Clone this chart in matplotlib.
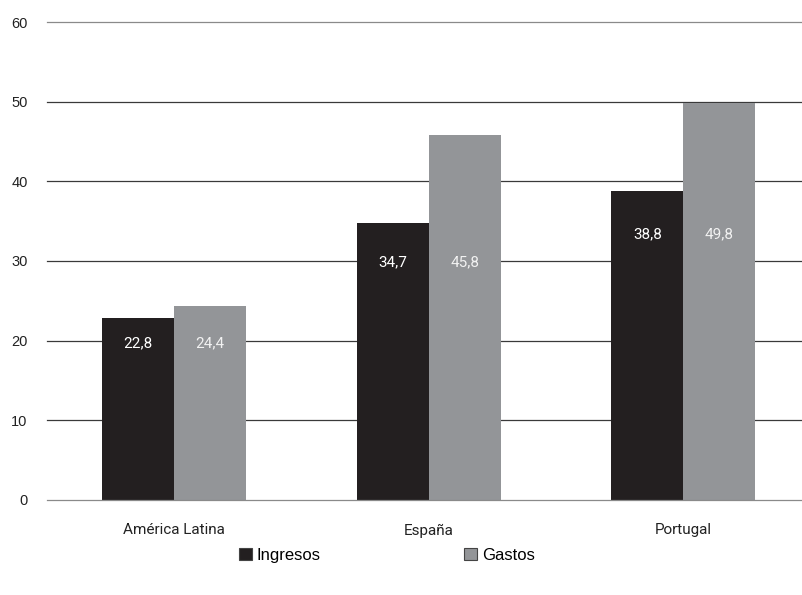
import matplotlib.pyplot as plt
import numpy as np

categories = ['América Latina', 'España', 'Portugal']
ingresos = [22.8, 34.7, 38.8]
gastos = [24.4, 45.8, 49.8]
labels_ing = ['22,8', '34,7', '38,8']
labels_gas = ['24,4', '45,8', '49,8']

black = '#231f20'
gray = '#939598'
narrow = ['Roboto', 'DejaVu Sans']

fig = plt.figure(figsize=(8.03, 5.95), dpi=100)
ax = fig.add_axes([0.0585, 0.16, 0.9415, 0.803])

x = np.arange(len(categories))
w = 0.283
ax.bar(x - w / 2, ingresos, width=w, color=black, label='Ingresos', zorder=3)
ax.bar(x + w / 2, gastos, width=w, color=gray, label='Gastos', zorder=3)

# value labels sit a bit below the top of the lower bar of each group
for i in range(len(categories)):
    ylab = min(ingresos[i], gastos[i]) * 0.86
    ax.text(x[i] - w / 2, ylab, labels_ing[i], ha='center', va='center',
            color='white', fontsize=11, family=narrow, zorder=4)
    ax.text(x[i] + w / 2, ylab, labels_gas[i], ha='center', va='center',
            color='#f2f2f2', fontsize=11, family=narrow, zorder=4)

ax.set_ylim(0, 60)
ax.set_xlim(-0.5, 2.47)
ax.set_yticks(range(0, 61, 10))
for v in range(0, 61, 10):
    c = '#8a8a8a' if v in (0, 60) else '#3a3a3a'
    ax.axhline(v, color=c, lw=0.9, zorder=1 if v else 4, clip_on=False)

for s in ax.spines.values():
    s.set_visible(False)
ax.tick_params(axis='y', length=0, pad=14, labelsize=10.5, labelcolor='#222222',
               labelfontfamily='Liberation Sans')
ax.tick_params(axis='x', length=0, pad=17)
ax.set_xticks(x)
ax.set_xticklabels(categories, family=narrow, fontsize=11, color='#222222')

fig.legend(loc='center', bbox_to_anchor=(0.482, 0.067), ncol=2, frameon=False,
           prop={'family': 'Liberation Sans', 'size': 12}, handlelength=0.75,
           handleheight=0.75, handletextpad=0.3, columnspacing=8.6)
for h in fig.legends[0].legend_handles:
    h.set_edgecolor('#444444')
    h.set_linewidth(0.8)

fig.savefig('out.png', dpi=100)
